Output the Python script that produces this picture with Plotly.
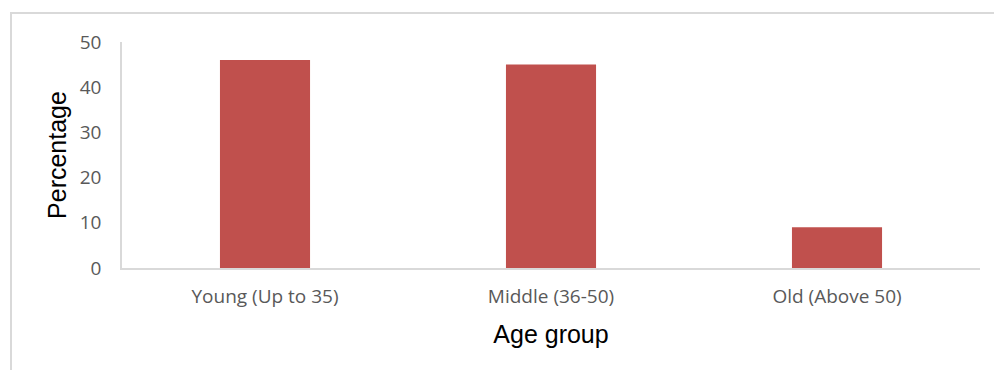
import plotly.graph_objects as go

# Share of respondents by age group
age_groups = ["Young (Up to 35)", "Middle (36-50)", "Old (Above 50)"]
percentages = [46, 45, 9]
y_ticks = [0, 10, 20, 30, 40, 50]

bar_color = "#C0504D"
axis_color = "#D9D9D9"
tick_font = dict(family="Open Sans, Lato, sans-serif", size=19, color="#595959")
title_font = dict(family="Liberation Sans, Arial, sans-serif", size=25, color="#000000")

W, H = 994, 370
ML, MR, MT, MB = 122, 14, 42, 102
plot_w = W - ML - MR
plot_h = H - MT - MB


def px_x(px):
    return (px - ML) / plot_w


def px_y(py):
    return (H - MB - py) / plot_h


fig = go.Figure(
    go.Bar(
        x=age_groups,
        y=percentages,
        marker=dict(color=bar_color, line=dict(width=0)),
        width=0.315,
    )
)

fig.update_layout(
    width=W,
    height=H,
    margin=dict(l=ML, r=MR, t=MT, b=MB),
    paper_bgcolor="white",
    plot_bgcolor="white",
    showlegend=False,
    xaxis=dict(
        showline=True,
        linecolor=axis_color,
        linewidth=1.5,
        ticks="",
        tickfont=tick_font,
        ticklabelstandoff=10,
        showgrid=False,
        title=dict(text="Age group", font=title_font, standoff=18),
    ),
    yaxis=dict(
        range=[0, 50],
        tickvals=y_ticks,
        showline=True,
        linecolor=axis_color,
        linewidth=1.5,
        ticks="",
        tickfont=tick_font,
        ticklabelstandoff=15,
        showgrid=False,
        zeroline=False,
        title=dict(text="Percentage", font=title_font, standoff=6),
    ),
    # outer chart frame (top and left edges)
    shapes=[
        dict(type="line", xref="paper", yref="paper",
             x0=px_x(10), x1=px_x(994), y0=px_y(13), y1=px_y(13),
             line=dict(color=axis_color, width=2)),
        dict(type="line", xref="paper", yref="paper",
             x0=px_x(11), x1=px_x(11), y0=px_y(13), y1=px_y(370),
             line=dict(color=axis_color, width=2)),
    ],
)

fig.write_html("out.html")
